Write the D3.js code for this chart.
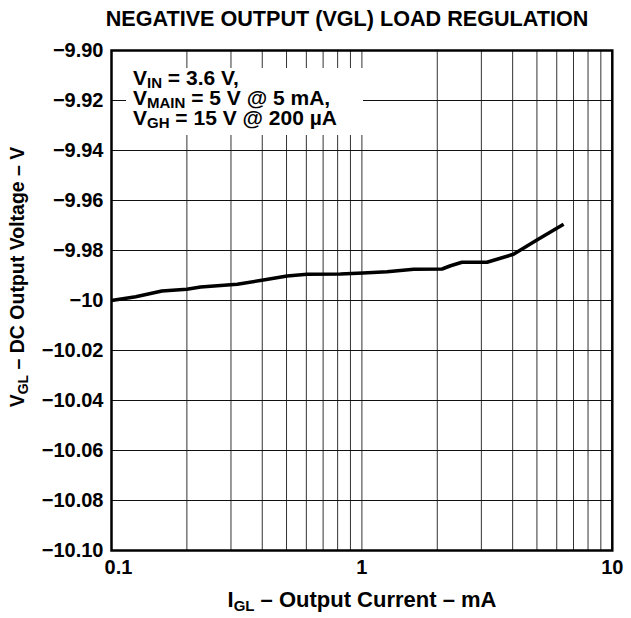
<!DOCTYPE html>
<html>
<head>
<meta charset="utf-8">
<script src="https://cdn.jsdelivr.net/npm/d3@7"></script>
<style>
  body { margin: 0; background: #fff; }
  svg text { font-family: "Liberation Sans", Arial, sans-serif; font-weight: bold; fill: #000; }
</style>
</head>
<body>
<svg id="chart" width="631" height="618"></svg>
<script>
// values
const current = [0.1, 0.125, 0.159, 0.2, 0.227, 0.318, 0.404, 0.503, 0.604, 0.821, 1.01, 1.26, 1.61, 2.09, 2.26, 2.51, 3.16, 4.03, 5.0, 6.39];
const voltage = [-10.000, -9.9985, -9.9962, -9.9955, -9.9946, -9.9935, -9.9918, -9.9902, -9.9895, -9.9894, -9.9890, -9.9885, -9.9875, -9.9874, -9.9861, -9.9847, -9.9847, -9.9815, -9.9758, -9.9695];

const yTicks = [-9.90, -9.92, -9.94, -9.96, -9.98, -10.00, -10.02, -10.04, -10.06, -10.08, -10.10];
const xLabels = [0.1, 1, 10];

const svg = d3.select("#chart");
const plotL = 111.5, plotR = 612.3, plotT = 50.5, plotB = 550.5;

const x = d3.scaleLog().domain([0.1, 10]).range([plotL, plotR]);
const y = d3.scaleLinear().domain([-10.10, -9.90]).range([plotB, plotT]);

// grid
const grid = svg.append("g");
grid.selectAll("line.v")
    .data(x.ticks())
    .enter()
    .append("line")
    .attr("x1", d => x(d)).attr("x2", d => x(d))
    .attr("y1", plotT).attr("y2", plotB)
    .attr("stroke", "#333")
    .attr("stroke-width", 1);
grid.selectAll("line.h")
    .data(yTicks)
    .enter()
    .append("line")
    .attr("x1", plotL).attr("x2", plotR)
    .attr("y1", d => y(d)).attr("y2", d => y(d))
    .attr("stroke", "#111")
    .attr("stroke-width", 1);

// white box behind the conditions text
svg.append("rect")
    .attr("x", 126).attr("y", 68)
    .attr("width", 237).attr("height", 67)
    .attr("fill", "#fff");

// curve
const line = d3.line()
    .x(d => x(d[0]))
    .y(d => y(d[1]));
svg.append("path")
    .datum(current.map((c, i) => [c, voltage[i]]))
    .attr("d", line)
    .attr("fill", "none")
    .attr("stroke", "#000")
    .attr("stroke-width", 3.5)
    .attr("stroke-linejoin", "round");

// frame
svg.append("rect")
    .attr("x", plotL).attr("y", plotT)
    .attr("width", plotR - plotL).attr("height", plotB - plotT)
    .attr("fill", "none")
    .attr("stroke", "#000")
    .attr("stroke-width", 2.5);

// y tick labels
const yAxis = d3.axisLeft(y)
    .tickValues(yTicks)
    .tickSize(0)
    .tickPadding(8)
    .tickFormat(d => Math.abs(d + 10) < 1e-9 ? "\u221210" : "\u2212" + Math.abs(d).toFixed(2));
const ya = svg.append("g").attr("transform", `translate(${plotL},0)`).call(yAxis);
ya.select(".domain").remove();
ya.attr("font-family", null).attr("font-size", null);
ya.selectAll("text").style("font-size", "20px");

// x tick labels
svg.selectAll("text.xl")
    .data(xLabels)
    .enter()
    .append("text")
    .attr("class", "xl")
    .attr("x", d => d === 0.1 ? x(d) + 7 : x(d))
    .attr("y", 574)
    .attr("text-anchor", "middle")
    .style("font-size", "20px")
    .text(d => d);

// title
svg.append("text")
    .attr("x", 347).attr("y", 26)
    .attr("text-anchor", "middle")
    .style("font-size", "21.6px")
    .text("NEGATIVE OUTPUT (VGL) LOAD REGULATION");

// conditions
const notes = [
    ["V", "IN", " = 3.6 V,"],
    ["V", "MAIN", " = 5 V @ 5 mA,"],
    ["V", "GH", " = 15 V @ 200 \u00b5A"]
];
notes.forEach((n, i) => {
    const t = svg.append("text")
        .attr("x", 133).attr("y", 85 + i * 20)
        .style("font-size", "21px");
    t.append("tspan").text(n[0]);
    t.append("tspan").attr("dy", 3).style("font-size", "15px").text(n[1]);
    t.append("tspan").attr("dy", -3).text(n[2]);
});

// x axis title
const xt = svg.append("text")
    .attr("x", 362).attr("y", 607)
    .attr("text-anchor", "middle")
    .style("font-size", "22px");
xt.append("tspan").text("I");
xt.append("tspan").attr("dy", 4).style("font-size", "15px").text("GL");
xt.append("tspan").attr("dy", -4).text(" \u2013 Output Current \u2013 mA");

// y axis title
const yt = svg.append("text")
    .attr("transform", "translate(24,277) rotate(-90)")
    .attr("text-anchor", "middle")
    .style("font-size", "19.5px");
yt.append("tspan").text("V");
yt.append("tspan").attr("dy", 4).style("font-size", "14px").text("GL");
yt.append("tspan").attr("dy", -4).text(" \u2013 DC Output Voltage \u2013 V");
</script>
</body>
</html>
